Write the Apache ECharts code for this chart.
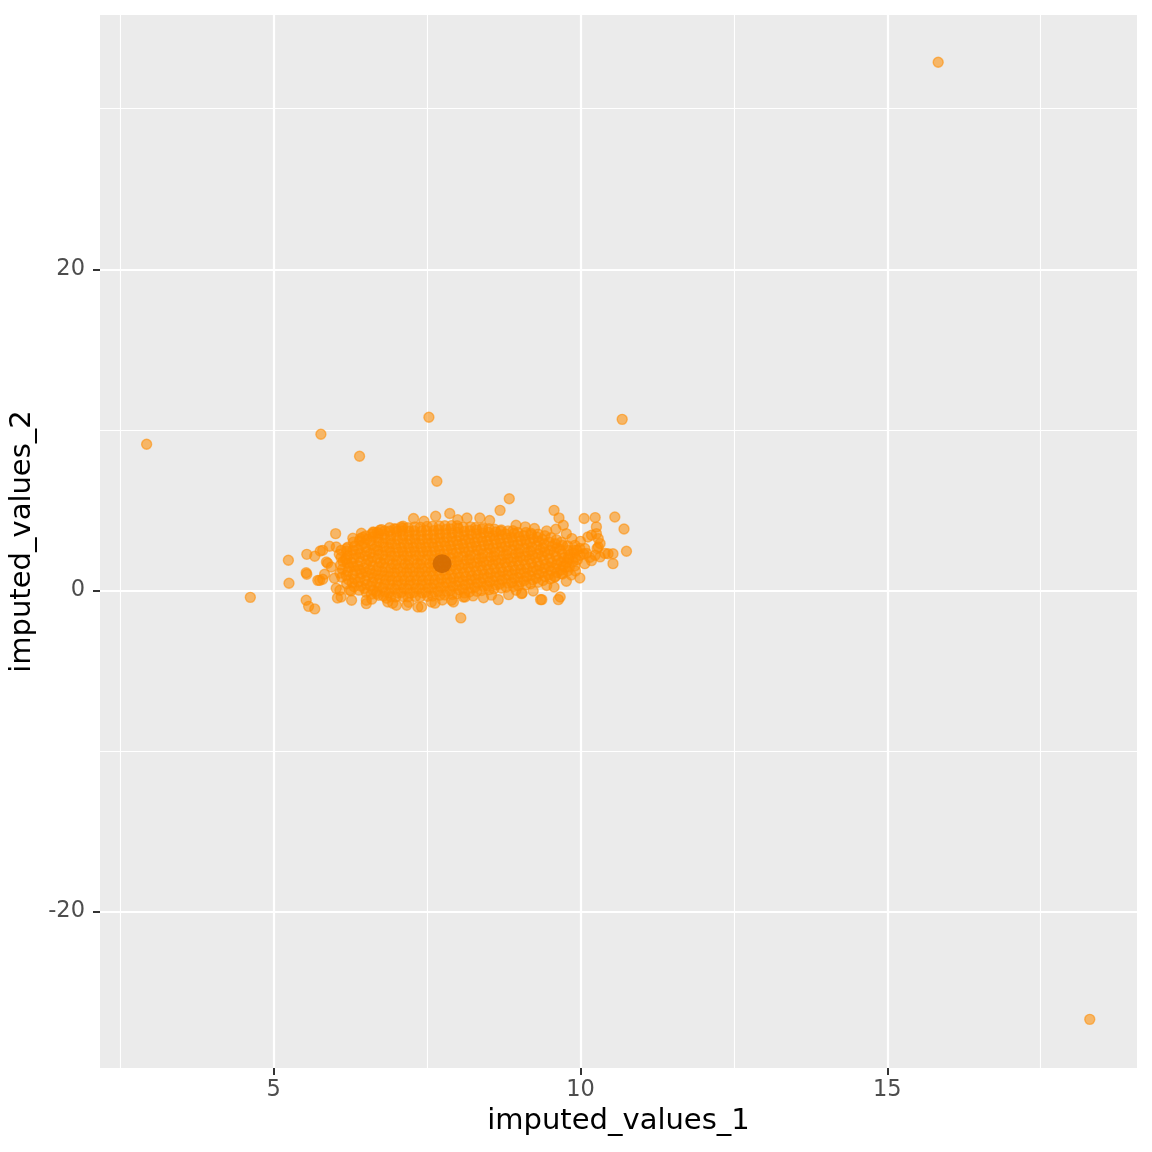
<!DOCTYPE html>
<html>
<head>
<meta charset="utf-8">
<script src="https://cdn.jsdelivr.net/npm/echarts@6/dist/echarts.min.js"></script>
<style>
html,body{margin:0;padding:0;background:#fff;}
#chart{width:1152px;height:1152px;}
</style>
</head>
<body>
<div id="chart"></div>
<script>
// ---- data ----
const xName = 'imputed_values_1';
const yName = 'imputed_values_2';
const xRange = [2.17, 19.07];
const yRange = [-29.76, 35.84];
const xMajorTicks = [5, 10, 15];
const xMinorTicks = [2.5, 7.5, 12.5, 17.5];
const yMajorTicks = [-20, 0, 20];
const yMinorTicks = [-10, 10, 30];

// dense cloud of imputed pairs (x = imputed_values_1, y = imputed_values_2)
const cloudPoints = [
[6.11,0.82],[6.08,1.07],[6.12,1.31],[6.09,1.58],[6.13,1.8],[6.1,2.05],[6.07,2.24],
[6.19,0.41],[6.22,0.66],[6.18,0.93],[6.21,1.17],[6.23,1.42],[6.2,1.68],[6.17,1.93],[6.22,2.17],[6.19,2.44],[6.21,2.69],
[6.31,0.22],[6.28,0.47],[6.32,0.71],[6.29,0.98],[6.33,1.22],[6.3,1.49],[6.27,1.73],[6.31,1.99],[6.34,2.24],[6.29,2.5],[6.32,2.76],[6.3,3.0],
[6.39,0.01],[6.42,0.26],[6.38,0.52],[6.41,0.77],[6.43,1.03],[6.4,1.28],[6.37,1.54],[6.42,1.79],[6.39,2.05],[6.41,2.3],[6.38,2.56],[6.43,2.81],[6.4,3.07],[6.41,3.22],
[6.51,-0.14],[6.48,0.11],[6.52,0.37],[6.49,0.62],[6.53,0.88],[6.5,1.13],[6.47,1.39],[6.51,1.64],[6.54,1.9],[6.49,2.15],[6.52,2.41],[6.5,2.66],[6.48,2.92],[6.52,3.17],[6.5,3.39],
[6.59,-0.24],[6.62,0.01],[6.58,0.27],[6.61,0.52],[6.63,0.78],[6.6,1.03],[6.57,1.29],[6.62,1.54],[6.59,1.8],[6.61,2.05],[6.58,2.31],[6.63,2.56],[6.6,2.82],[6.58,3.07],[6.62,3.33],[6.6,3.5],
[6.71,-0.31],[6.68,-0.06],[6.72,0.2],[6.69,0.45],[6.73,0.71],[6.7,0.96],[6.67,1.22],[6.71,1.47],[6.74,1.73],[6.69,1.98],[6.72,2.24],[6.7,2.49],[6.68,2.75],[6.72,3.0],[6.7,3.26],[6.71,3.52],[6.69,3.61],
[6.79,-0.36],[6.82,-0.11],[6.78,0.15],[6.81,0.4],[6.83,0.66],[6.8,0.91],[6.77,1.17],[6.82,1.42],[6.79,1.68],[6.81,1.93],[6.78,2.19],[6.83,2.44],[6.8,2.7],[6.78,2.95],[6.82,3.21],[6.8,3.46],[6.81,3.7],
[6.91,-0.4],[6.88,-0.15],[6.92,0.11],[6.89,0.36],[6.93,0.62],[6.9,0.87],[6.87,1.13],[6.91,1.38],[6.94,1.64],[6.89,1.89],[6.92,2.15],[6.9,2.4],[6.88,2.66],[6.92,2.91],[6.9,3.17],[6.91,3.42],[6.89,3.68],
[6.99,-0.42],[7.02,-0.17],[6.98,0.09],[7.01,0.34],[7.03,0.6],[7.0,0.85],[6.97,1.11],[7.02,1.36],[6.99,1.62],[7.01,1.87],[6.98,2.13],[7.03,2.38],[7.0,2.64],[6.98,2.89],[7.02,3.15],[7.0,3.4],[7.01,3.66],[6.99,3.8],
[7.11,-0.39],[7.08,-0.14],[7.12,0.12],[7.09,0.37],[7.13,0.63],[7.1,0.88],[7.07,1.14],[7.11,1.39],[7.14,1.65],[7.09,1.9],[7.12,2.16],[7.1,2.41],[7.08,2.67],[7.12,2.92],[7.1,3.18],[7.11,3.43],[7.09,3.69],[7.1,3.86],
[7.19,-0.41],[7.22,-0.16],[7.18,0.1],[7.21,0.35],[7.23,0.61],[7.2,0.86],[7.17,1.12],[7.22,1.37],[7.19,1.63],[7.21,1.88],[7.18,2.14],[7.23,2.39],[7.2,2.65],[7.18,2.9],[7.22,3.16],[7.2,3.41],[7.21,3.67],[7.19,3.9],
[7.31,-0.38],[7.28,-0.13],[7.32,0.13],[7.29,0.38],[7.33,0.64],[7.3,0.89],[7.27,1.15],[7.31,1.4],[7.34,1.66],[7.29,1.91],[7.32,2.17],[7.3,2.42],[7.28,2.68],[7.32,2.93],[7.3,3.19],[7.31,3.44],[7.29,3.7],[7.3,3.95],
[7.39,-0.4],[7.42,-0.15],[7.38,0.11],[7.41,0.36],[7.43,0.62],[7.4,0.87],[7.37,1.13],[7.42,1.38],[7.39,1.64],[7.41,1.89],[7.38,2.15],[7.43,2.4],[7.4,2.66],[7.38,2.91],[7.42,3.17],[7.4,3.42],[7.41,3.68],[7.39,3.93],
[7.51,-0.37],[7.48,-0.12],[7.52,0.14],[7.49,0.39],[7.53,0.65],[7.5,0.9],[7.47,1.16],[7.51,1.41],[7.54,1.67],[7.49,1.92],[7.52,2.18],[7.5,2.43],[7.48,2.69],[7.52,2.94],[7.5,3.2],[7.51,3.45],[7.49,3.71],[7.5,3.98],
[7.59,-0.36],[7.62,-0.11],[7.58,0.15],[7.61,0.4],[7.63,0.66],[7.6,0.91],[7.57,1.17],[7.62,1.42],[7.59,1.68],[7.61,1.93],[7.58,2.19],[7.63,2.44],[7.6,2.7],[7.58,2.95],[7.62,3.21],[7.6,3.46],[7.61,3.72],[7.59,3.99],
[7.71,-0.31],[7.68,-0.06],[7.72,0.2],[7.69,0.45],[7.73,0.71],[7.7,0.96],[7.67,1.22],[7.71,1.47],[7.74,1.73],[7.69,1.98],[7.72,2.24],[7.7,2.49],[7.68,2.75],[7.72,3.0],[7.7,3.26],[7.71,3.51],[7.69,3.77],[7.7,4.01],
[7.79,-0.29],[7.82,-0.04],[7.78,0.22],[7.81,0.47],[7.83,0.73],[7.8,0.98],[7.77,1.24],[7.82,1.49],[7.79,1.75],[7.81,2.0],[7.78,2.26],[7.83,2.51],[7.8,2.77],[7.78,3.02],[7.82,3.28],[7.8,3.53],[7.81,3.79],[7.79,4.02],
[7.91,-0.26],[7.88,-0.01],[7.92,0.25],[7.89,0.5],[7.93,0.76],[7.9,1.01],[7.87,1.27],[7.91,1.52],[7.94,1.78],[7.89,2.03],[7.92,2.29],[7.9,2.54],[7.88,2.8],[7.92,3.05],[7.9,3.31],[7.91,3.56],[7.89,3.82],[7.9,4.03],
[7.99,-0.21],[8.02,0.04],[7.98,0.3],[8.01,0.55],[8.03,0.81],[8.0,1.06],[7.97,1.32],[8.02,1.57],[7.99,1.83],[8.01,2.08],[7.98,2.34],[8.03,2.59],[8.0,2.85],[7.98,3.1],[8.02,3.36],[8.0,3.61],[8.01,3.87],[7.99,4.02],
[8.11,-0.16],[8.08,0.09],[8.12,0.35],[8.09,0.6],[8.13,0.86],[8.1,1.11],[8.07,1.37],[8.11,1.62],[8.14,1.88],[8.09,2.13],[8.12,2.39],[8.1,2.64],[8.08,2.9],[8.12,3.15],[8.1,3.41],[8.11,3.66],[8.09,3.92],
[8.19,-0.11],[8.22,0.14],[8.18,0.4],[8.21,0.65],[8.23,0.91],[8.2,1.16],[8.17,1.42],[8.22,1.67],[8.19,1.93],[8.21,2.18],[8.18,2.44],[8.23,2.69],[8.2,2.95],[8.18,3.2],[8.22,3.46],[8.2,3.71],[8.21,3.95],
[8.31,-0.06],[8.28,0.19],[8.32,0.45],[8.29,0.7],[8.33,0.96],[8.3,1.21],[8.27,1.47],[8.31,1.72],[8.34,1.98],[8.29,2.23],[8.32,2.49],[8.3,2.74],[8.28,3.0],[8.32,3.25],[8.3,3.51],[8.31,3.76],[8.29,3.91],
[8.39,-0.01],[8.42,0.24],[8.38,0.5],[8.41,0.75],[8.43,1.01],[8.4,1.26],[8.37,1.52],[8.42,1.77],[8.39,2.03],[8.41,2.28],[8.38,2.54],[8.43,2.79],[8.4,3.05],[8.38,3.3],[8.42,3.56],[8.4,3.81],[8.41,3.9],
[8.51,0.04],[8.48,0.29],[8.52,0.55],[8.49,0.8],[8.53,1.06],[8.5,1.31],[8.47,1.57],[8.51,1.82],[8.54,2.08],[8.49,2.33],[8.52,2.59],[8.5,2.84],[8.48,3.1],[8.52,3.35],[8.5,3.61],[8.51,3.84],
[8.59,0.09],[8.62,0.34],[8.58,0.6],[8.61,0.85],[8.63,1.11],[8.6,1.36],[8.57,1.62],[8.62,1.87],[8.59,2.13],[8.61,2.38],[8.58,2.64],[8.63,2.89],[8.6,3.15],[8.58,3.4],[8.62,3.63],[8.6,3.8],
[8.71,0.14],[8.68,0.39],[8.72,0.65],[8.69,0.9],[8.73,1.16],[8.7,1.41],[8.67,1.67],[8.71,1.92],[8.74,2.18],[8.69,2.43],[8.72,2.69],[8.7,2.94],[8.68,3.2],[8.72,3.45],[8.7,3.68],[8.71,3.76],
[8.79,0.19],[8.82,0.44],[8.78,0.7],[8.81,0.95],[8.83,1.21],[8.8,1.46],[8.77,1.72],[8.82,1.97],[8.79,2.23],[8.81,2.48],[8.78,2.74],[8.83,2.99],[8.8,3.25],[8.78,3.5],[8.82,3.7],
[8.91,0.24],[8.88,0.49],[8.92,0.75],[8.89,1.0],[8.93,1.26],[8.9,1.51],[8.87,1.77],[8.91,2.02],[8.94,2.28],[8.89,2.53],[8.92,2.79],[8.9,3.04],[8.88,3.3],[8.92,3.55],[8.9,3.71],
[8.99,0.29],[9.02,0.54],[8.98,0.8],[9.01,1.05],[9.03,1.31],[9.0,1.56],[8.97,1.82],[9.02,2.07],[8.99,2.33],[9.01,2.58],[8.98,2.84],[9.03,3.09],[9.0,3.35],[8.98,3.6],
[9.11,0.34],[9.08,0.59],[9.12,0.85],[9.09,1.1],[9.13,1.36],[9.1,1.61],[9.07,1.87],[9.11,2.12],[9.14,2.38],[9.09,2.63],[9.12,2.89],[9.1,3.14],[9.08,3.4],[9.11,3.6],
[9.19,0.41],[9.22,0.66],[9.18,0.92],[9.21,1.17],[9.23,1.43],[9.2,1.68],[9.17,1.94],[9.22,2.19],[9.19,2.45],[9.21,2.7],[9.18,2.96],[9.23,3.21],[9.2,3.47],[9.19,3.56],
[9.31,0.5],[9.28,0.75],[9.32,1.01],[9.29,1.26],[9.33,1.52],[9.3,1.77],[9.27,2.03],[9.31,2.28],[9.34,2.54],[9.29,2.79],[9.32,3.05],[9.3,3.3],[9.31,3.5],
[9.39,0.61],[9.42,0.86],[9.38,1.12],[9.41,1.37],[9.43,1.63],[9.4,1.88],[9.37,2.14],[9.42,2.39],[9.39,2.65],[9.41,2.9],[9.38,3.16],[9.42,3.4],
[9.51,0.71],[9.48,0.96],[9.52,1.22],[9.49,1.47],[9.53,1.73],[9.5,1.98],[9.47,2.24],[9.51,2.49],[9.54,2.75],[9.49,3.0],[9.52,3.28],
[9.59,0.86],[9.62,1.11],[9.58,1.37],[9.61,1.62],[9.63,1.88],[9.6,2.13],[9.57,2.39],[9.62,2.64],[9.59,2.9],[9.61,3.14],
[9.71,1.01],[9.68,1.26],[9.72,1.52],[9.69,1.77],[9.73,2.03],[9.7,2.28],[9.67,2.54],[9.71,2.79],[9.69,3.0],
[9.79,1.21],[9.82,1.46],[9.78,1.72],[9.81,1.97],[9.83,2.23],[9.8,2.48],[9.79,2.77],
[9.91,1.52],[9.88,1.79],[9.92,2.04],[9.9,2.31],[9.89,2.52],
// fringe
[5.24,1.87],[5.25,0.44],[5.53,-0.62],[5.57,-1.0],[5.67,-1.16],[5.53,1.09],[5.54,1.0],[5.54,2.24],[5.67,2.12],[5.76,2.45],
[5.86,1.76],[5.91,2.74],[6.01,3.53],[5.8,0.69],[5.75,0.62],[6.04,-0.48],[6.08,0.0],[6.26,-0.04],[6.02,2.7],[6.19,2.6],
[6.29,3.24],[6.45,3.3],[6.63,3.6],[6.51,-0.83],[6.73,3.74],[6.97,3.84],[7.11,3.99],[7.28,4.47],
[5.8,2.49],[5.88,1.68],[5.72,0.62],[5.83,1.0],[5.94,1.45],[6.1,2.49],[6.19,1.99],[5.99,0.75],[6.02,0.12],[6.1,-0.42],
[6.24,0.0],[6.27,-0.62],[6.51,-0.62],[6.68,-0.2],[6.84,-0.5],[6.94,-0.81],[7.17,-0.93],
[6.43,3.55],[6.62,3.63],[6.76,3.78],[6.89,3.9],[7.08,3.95],
[7.45,4.3],[7.64,4.61],[7.87,4.78],[8.0,4.4],[8.15,4.5],[8.36,4.5],[8.52,4.35],[8.69,4.98],[8.95,4.05],[9.1,3.95],[9.25,3.85],
[6.86,-0.73],[7.0,-0.93],[7.35,-1.04],[7.41,-1.04],[7.57,-0.73],[7.63,-0.8],[7.9,-0.62],[8.09,-0.42],
[8.42,-0.46],[8.66,-0.58],[8.83,-0.27],[9.05,-0.17],[9.23,-0.04],[9.35,-0.58],[9.57,0.21],[9.67,-0.42],[9.64,-0.58],
[9.77,0.56],[9.99,0.77],[8.25,-0.35],[8.55,-0.3],[8.95,0.0],[9.45,0.3],[7.75,-0.6],[7.2,-0.75],[6.6,-0.55],
[7.93,-0.73],[8.12,-0.42],[9.04,-0.21],[9.37,-0.58],
[9.57,4.98],[9.65,4.51],[9.72,4.05],[10.06,4.47],[10.24,4.53],[10.56,4.57],[10.71,3.82],[10.75,2.43],[10.53,1.66],
[10.53,2.28],[10.45,2.28],[10.26,3.95],[10.26,3.53],[10.18,3.43],[10.12,3.32],[10.29,2.7],[10.32,2.08],[10.24,2.18],
[10.07,1.66],[10.29,3.22],[10.32,2.91],[10.27,2.6],[10.07,2.6],[9.91,2.8],[9.99,2.6],[10.05,2.28],[9.86,3.22],[9.77,3.53],
[9.94,2.49],[9.99,2.18],[9.8,2.08],[9.75,1.45],[9.69,1.04],[9.58,0.83],[10.1,2.3],[10.15,2.05],[9.95,1.9],[9.92,1.2],
[9.85,0.95],[10.0,3.05],[9.6,3.8],[9.45,3.7],[10.4,2.3],[10.18,1.85]
];

// isolated imputations far from the cloud
const outlierPoints = [
[2.93,9.1],[4.62,-0.44],[5.77,9.72],[6.4,8.35],[7.53,10.78],[7.66,6.79],
[10.68,10.65],[15.83,32.9],[18.3,-26.73],[8.05,-1.72],[8.84,5.7]
];

// mean of the observed pair
const meanPoint = [7.745, 1.66];

// ---- chart ----
const FONT = 'DejaVu Sans';
const chart = echarts.init(document.getElementById('chart'), null, {renderer: 'canvas'});

function baseAxis(range, majorTicks, pos) {
  return {
    type: 'value',
    min: range[0],
    max: range[1],
    scale: true,
    position: pos,
    axisLine: {show: false, onZero: false},
    axisTick: {show: true, inside: false, length: 7, customValues: majorTicks, lineStyle: {color: '#333333', width: 2}},
    axisLabel: {customValues: majorTicks, color: '#4D4D4D', fontSize: 22.5, fontFamily: FONT},
    splitLine: {show: true, lineStyle: {color: '#FFFFFF', width: 2.2}},
    minorTick: {show: false},
    minorSplitLine: {show: false}
  };
}
function minorAxis(range, minorTicks, pos) {
  return {
    type: 'value',
    min: range[0],
    max: range[1],
    scale: true,
    position: pos,
    axisLine: {show: false, onZero: false},
    axisTick: {show: false, customValues: minorTicks},
    axisLabel: {show: false, customValues: minorTicks},
    splitLine: {show: true, lineStyle: {color: '#FFFFFF', width: 1.1}}
  };
}

const xMain = Object.assign(baseAxis(xRange, xMajorTicks, 'bottom'), {
  name: xName,
  nameLocation: 'middle',
  nameGap: 39,
  nameTextStyle: {color: '#000000', fontSize: 29, fontFamily: FONT}
});
xMain.axisLabel.margin = 11;

const yMain = Object.assign(baseAxis(yRange, yMajorTicks, 'left'), {
  name: yName,
  nameLocation: 'middle',
  nameRotate: 90,
  nameGap: 59,
  nameTextStyle: {color: '#000000', fontSize: 29, fontFamily: FONT}
});
yMain.axisLabel.margin = 15;

chart.setOption({
  animation: false,
  backgroundColor: '#FFFFFF',
  grid: {left: 100, right: 15, top: 15, bottom: 84, show: true, backgroundColor: '#EBEBEB', borderWidth: 0, containLabel: false},
  xAxis: [xMain, minorAxis(xRange, xMinorTicks, 'bottom')],
  yAxis: [yMain, minorAxis(yRange, yMinorTicks, 'left')],
  series: [
    {
      type: 'scatter',
      xAxisIndex: 0,
      yAxisIndex: 0,
      data: cloudPoints.concat(outlierPoints),
      symbol: 'circle',
      symbolSize: 10,
      large: false,
      silent: true,
      itemStyle: {color: 'rgba(255,140,0,0.7)', borderColor: 'rgba(255,140,0,0.7)', borderWidth: 1.4},
      emphasis: {disabled: true}
    },
    {
      type: 'scatter',
      xAxisIndex: 0,
      yAxisIndex: 0,
      data: [meanPoint],
      symbol: 'circle',
      symbolSize: 19,
      silent: true,
      itemStyle: {color: '#CD6600'},
      emphasis: {disabled: true},
      z: 3
    }
  ]
});
</script>
</body>
</html>
